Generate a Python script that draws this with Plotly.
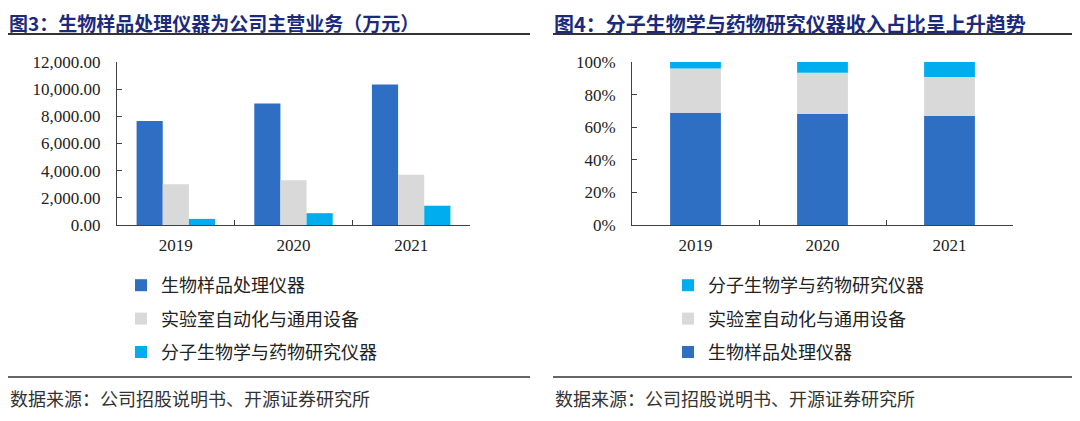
import plotly.graph_objects as go

W, H = 1080, 421

# dados (万元)
anos = ["2019", "2020", "2021"]
series = ["生物样品处理仪器", "实验室自动化与通用设备", "分子生物学与药物研究仪器"]
bio_amostra = [7650, 8950, 10350]
lab_auto = [3000, 3300, 3700]
mol_bio = [450, 870, 1420]
cores = ["#2F6FC3", "#D9D9D9", "#00AEEF"]

left_ticks = [0, 2000, 4000, 6000, 8000, 10000, 12000]
right_ticks = [0, 20, 40, 60, 80, 100]

titulo3 = "图3：生物样品处理仪器为公司主营业务（万元）"
titulo4 = "图4：分子生物学与药物研究仪器收入占比呈上升趋势"
fonte = "数据来源：公司招股说明书、开源证券研究所"

# a pagina tem margem de 8px no body
OFF = 8


def px_x(x):
    return (x - OFF) / W


def px_y(y):
    return 1 - (y - OFF) / H


valores = [bio_amostra, lab_auto, mol_bio]
totais = [sum(v) for v in zip(*valores)]
pcts = [[v / t * 100 for v, t in zip(serie, totais)] for serie in valores]

CJK = "Noto Sans CJK SC"
SERIF = "Liberation Serif, Times New Roman, serif"

fig = go.Figure()

# grafico 3 - barras agrupadas
for i, (nome, vals) in enumerate(zip(series, valores)):
    fig.add_trace(go.Bar(
        x=anos, y=vals, name=nome, marker_color=cores[i], marker_line_width=0,
        xaxis="x", yaxis="y", legend="legend", legendgroup=f"a{i}",
        legendrank=i + 1,
    ))

# grafico 4 - barras empilhadas (percentual)
base = [0, 0, 0]
for i, (nome, vals) in enumerate(zip(series, pcts)):
    fig.add_trace(go.Bar(
        x=anos, y=vals, base=list(base), name=nome, marker_color=cores[i],
        marker_line_width=0, width=0.4, offset=-0.2,
        xaxis="x2", yaxis="y2", legend="legend2", legendgroup=f"b{i}",
        legendrank=len(series) - i,
    ))
    base = [b + v for b, v in zip(base, vals)]

eixo_x = dict(
    type="category", showline=True, linecolor="#404040", linewidth=1,
    ticks="inside", tickson="boundaries", ticklen=5, tickcolor="#404040",
    tickfont=dict(family=SERIF, size=17, color="#222"), showgrid=False,
    ticklabelstandoff=5, fixedrange=True, automargin=False,
)
eixo_y = dict(
    showline=True, linecolor="#404040", linewidth=1, ticks="inside", ticklen=5,
    tickcolor="#404040", tickfont=dict(family=SERIF, size=17, color="#222"),
    showgrid=False, zeroline=False, fixedrange=True, ticklabelstandoff=12,
    tickmode="array", automargin=False,
)

legenda = dict(
    orientation="v", xanchor="left", yanchor="top", bgcolor="rgba(0,0,0,0)",
    font=dict(family=CJK, size=18, color="#222"), tracegroupgap=7,
    itemwidth=30,
)

fig.update_layout(
    width=W, height=H,
    margin=dict(l=0, r=0, t=0, b=0, pad=0, autoexpand=False),
    paper_bgcolor="white", plot_bgcolor="white",
    barmode="group", bargap=0.333, bargroupgap=0,
    xaxis=dict(eixo_x, domain=[px_x(117), px_x(470)], anchor="y"),
    yaxis=dict(eixo_y, domain=[px_y(225), px_y(62)], anchor="x",
               range=[0, 12000], tickvals=left_ticks,
               ticktext=[f"{v:,.2f}" for v in left_ticks]),
    xaxis2=dict(eixo_x, domain=[px_x(632), px_x(1013)], anchor="y2"),
    yaxis2=dict(eixo_y, domain=[px_y(225), px_y(62)], anchor="x2",
                range=[0, 100], tickvals=right_ticks,
                ticktext=[f"{v}%" for v in right_ticks]),
    legend=dict(legenda, x=px_x(121), y=px_y(267)),
    legend2=dict(legenda, x=px_x(668), y=px_y(267)),
    showlegend=True,
)

# titulos e fonte
for x0, x1, tit, tam in [(8, 530, titulo3, 19), (553, 1075, titulo4, 20)]:
    fig.add_annotation(
        text=f"<b>{tit}</b>", x=px_x(x0), y=1, xref="paper", yref="paper",
        xanchor="left", yanchor="top", showarrow=False, borderpad=0,
        font=dict(family=CJK, size=tam, color="#1C2A7C"),
    )
    fig.add_shape(type="line", xref="paper", yref="paper",
                  x0=px_x(x0), x1=px_x(x1), y0=px_y(34), y1=px_y(34),
                  line=dict(color="#333", width=2))
    fig.add_shape(type="line", xref="paper", yref="paper",
                  x0=px_x(x0), x1=px_x(x1), y0=px_y(377), y1=px_y(377),
                  line=dict(color="#333", width=1.5))
    fig.add_annotation(
        text=fonte, x=px_x(x0), y=px_y(398), xref="paper", yref="paper",
        xanchor="left", yanchor="middle", showarrow=False,
        font=dict(family=CJK, size=18, color="#333"),
    )

fig.write_html("out.html")
